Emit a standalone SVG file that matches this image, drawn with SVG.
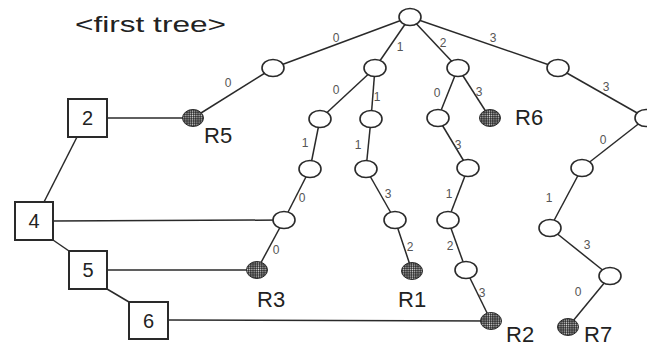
<svg xmlns="http://www.w3.org/2000/svg" width="647" height="348" viewBox="0 0 647 348">
<defs>
<pattern id="dots" width="2.2" height="2.2" patternUnits="userSpaceOnUse">
<rect width="2.2" height="2.2" fill="#2a2a2a"/>
<circle cx="1.1" cy="1.1" r="0.65" fill="#dcdcdc"/>
</pattern>
<style>
.e{stroke:#2a2a2a;stroke-width:1.5;fill:none}
.n{fill:#fff;stroke:#2a2a2a;stroke-width:1.6}
.r{fill:url(#dots);stroke:#2a2a2a;stroke-width:1}
.b{fill:#fff;stroke:#2a2a2a;stroke-width:2}
.l{font-family:"Liberation Sans",Arial,sans-serif;font-size:12px;fill:#555;text-anchor:middle}
.t{font-family:"Liberation Sans",Arial,sans-serif;font-size:22px;fill:#222}
.bt{font-family:"Liberation Sans",Arial,sans-serif;font-size:20px;fill:#222;text-anchor:middle}
</style>
</defs>
<rect width="647" height="348" fill="#fff"/>
<text class="t" x="75" y="32" font-size="27" textLength="151" lengthAdjust="spacingAndGlyphs">&lt;first tree&gt;</text>
<g id="connectors">
<line class="e" x1="410" y1="17" x2="273" y2="68"/>
<line class="e" x1="410" y1="17" x2="375" y2="68"/>
<line class="e" x1="410" y1="17" x2="458" y2="68"/>
<line class="e" x1="410" y1="17" x2="558" y2="68"/>
<line class="e" x1="273" y1="68" x2="193" y2="118"/>
<line class="e" x1="375" y1="68" x2="320" y2="119"/>
<line class="e" x1="375" y1="68" x2="371" y2="119"/>
<line class="e" x1="458" y1="68" x2="438" y2="118"/>
<line class="e" x1="458" y1="68" x2="490" y2="118"/>
<line class="e" x1="558" y1="68" x2="646" y2="118"/>
<line class="e" x1="320" y1="119" x2="310" y2="169"/>
<line class="e" x1="310" y1="169" x2="284" y2="220"/>
<line class="e" x1="284" y1="220" x2="257" y2="270"/>
<line class="e" x1="371" y1="119" x2="366" y2="169"/>
<line class="e" x1="366" y1="169" x2="395" y2="220"/>
<line class="e" x1="395" y1="220" x2="412" y2="271"/>
<line class="e" x1="438" y1="118" x2="468" y2="168"/>
<line class="e" x1="468" y1="168" x2="448" y2="220"/>
<line class="e" x1="448" y1="220" x2="466" y2="270"/>
<line class="e" x1="466" y1="270" x2="491" y2="321"/>
<line class="e" x1="646" y1="118" x2="582" y2="168"/>
<line class="e" x1="582" y1="168" x2="550" y2="228"/>
<line class="e" x1="550" y1="228" x2="610" y2="276"/>
<line class="e" x1="610" y1="276" x2="568" y2="327"/>
<line class="e" x1="107" y1="118" x2="193" y2="118"/>
<line class="e" x1="77" y1="137" x2="44" y2="202"/>
<line class="e" x1="53" y1="221" x2="284" y2="220"/>
<line class="e" x1="53" y1="240" x2="69" y2="251"/>
<line class="e" x1="107" y1="270" x2="257" y2="270"/>
<line class="e" x1="107" y1="289" x2="129" y2="302"/>
<line class="e" x1="168" y1="320" x2="491" y2="321"/>
<text class="l" x="336" y="42">0</text>
<text class="l" x="400" y="51">1</text>
<text class="l" x="443" y="47">2</text>
<text class="l" x="493" y="42">3</text>
<text class="l" x="228" y="87">0</text>
<text class="l" x="336" y="94">0</text>
<text class="l" x="377" y="101">1</text>
<text class="l" x="437" y="97">0</text>
<text class="l" x="479" y="96">3</text>
<text class="l" x="606" y="91">3</text>
<text class="l" x="305" y="147">1</text>
<text class="l" x="358" y="149">1</text>
<text class="l" x="458" y="149">3</text>
<text class="l" x="603" y="144">0</text>
<text class="l" x="302" y="202">0</text>
<text class="l" x="276" y="254">0</text>
<text class="l" x="388" y="198">3</text>
<text class="l" x="410" y="251">2</text>
<text class="l" x="449" y="198">1</text>
<text class="l" x="450" y="250">2</text>
<text class="l" x="482" y="297">3</text>
<text class="l" x="549" y="202">1</text>
<text class="l" x="587" y="249">3</text>
<text class="l" x="578" y="296">0</text>
</g>
<g id="root"><ellipse class="n" cx="410" cy="17" rx="11" ry="8.5"/></g>
<g id="n0"><ellipse class="n" cx="273" cy="68" rx="11" ry="8.5"/></g>
<g id="n1"><ellipse class="n" cx="375" cy="68" rx="11" ry="8.5"/></g>
<g id="n2"><ellipse class="n" cx="458" cy="68" rx="11" ry="8.5"/></g>
<g id="n3"><ellipse class="n" cx="558" cy="68" rx="11" ry="8.5"/></g>
<g id="n10"><ellipse class="n" cx="320" cy="119" rx="11" ry="8.5"/></g>
<g id="n11"><ellipse class="n" cx="371" cy="119" rx="11" ry="8.5"/></g>
<g id="n20"><ellipse class="n" cx="438" cy="118" rx="11" ry="8.5"/></g>
<g id="n33"><ellipse class="n" cx="646" cy="118" rx="11" ry="8.5"/></g>
<g id="n101"><ellipse class="n" cx="310" cy="169" rx="11" ry="8.5"/></g>
<g id="n1010"><ellipse class="n" cx="284" cy="220" rx="11" ry="8.5"/></g>
<g id="n111"><ellipse class="n" cx="366" cy="169" rx="11" ry="8.5"/></g>
<g id="n1113"><ellipse class="n" cx="395" cy="220" rx="11" ry="8.5"/></g>
<g id="n203"><ellipse class="n" cx="468" cy="168" rx="11" ry="8.5"/></g>
<g id="n2031"><ellipse class="n" cx="448" cy="220" rx="11" ry="8.5"/></g>
<g id="n20312"><ellipse class="n" cx="466" cy="270" rx="11" ry="8.5"/></g>
<g id="n330"><ellipse class="n" cx="582" cy="168" rx="11" ry="8.5"/></g>
<g id="n3301"><ellipse class="n" cx="550" cy="228" rx="11" ry="8.5"/></g>
<g id="n33013"><ellipse class="n" cx="610" cy="276" rx="11" ry="8.5"/></g>
<g id="R5"><ellipse class="r" cx="193" cy="118" rx="10.5" ry="8.5"/><text class="t" x="204" y="143">R5</text></g>
<g id="R6"><ellipse class="r" cx="490" cy="118" rx="10.5" ry="8.5"/><text class="t" x="515" y="125">R6</text></g>
<g id="R3"><ellipse class="r" cx="257" cy="270" rx="10.5" ry="8.5"/><text class="t" x="257" y="307">R3</text></g>
<g id="R1"><ellipse class="r" cx="412" cy="271" rx="10.5" ry="8.5"/><text class="t" x="398" y="307">R1</text></g>
<g id="R2"><ellipse class="r" cx="491" cy="321" rx="10.5" ry="8.5"/><text class="t" x="506" y="342">R2</text></g>
<g id="R7"><ellipse class="r" cx="568" cy="327" rx="10.5" ry="8.5"/><text class="t" x="584" y="342">R7</text></g>
<g id="box2"><rect class="b" x="68" y="99" width="39" height="38"/><text class="bt" x="87.5" y="125">2</text></g>
<g id="box4"><rect class="b" x="15" y="202" width="38" height="38"/><text class="bt" x="34" y="228">4</text></g>
<g id="box5"><rect class="b" x="69" y="251" width="38" height="38"/><text class="bt" x="88" y="277">5</text></g>
<g id="box6"><rect class="b" x="129" y="302" width="39" height="37"/><text class="bt" x="148.5" y="328">6</text></g>
</svg>
